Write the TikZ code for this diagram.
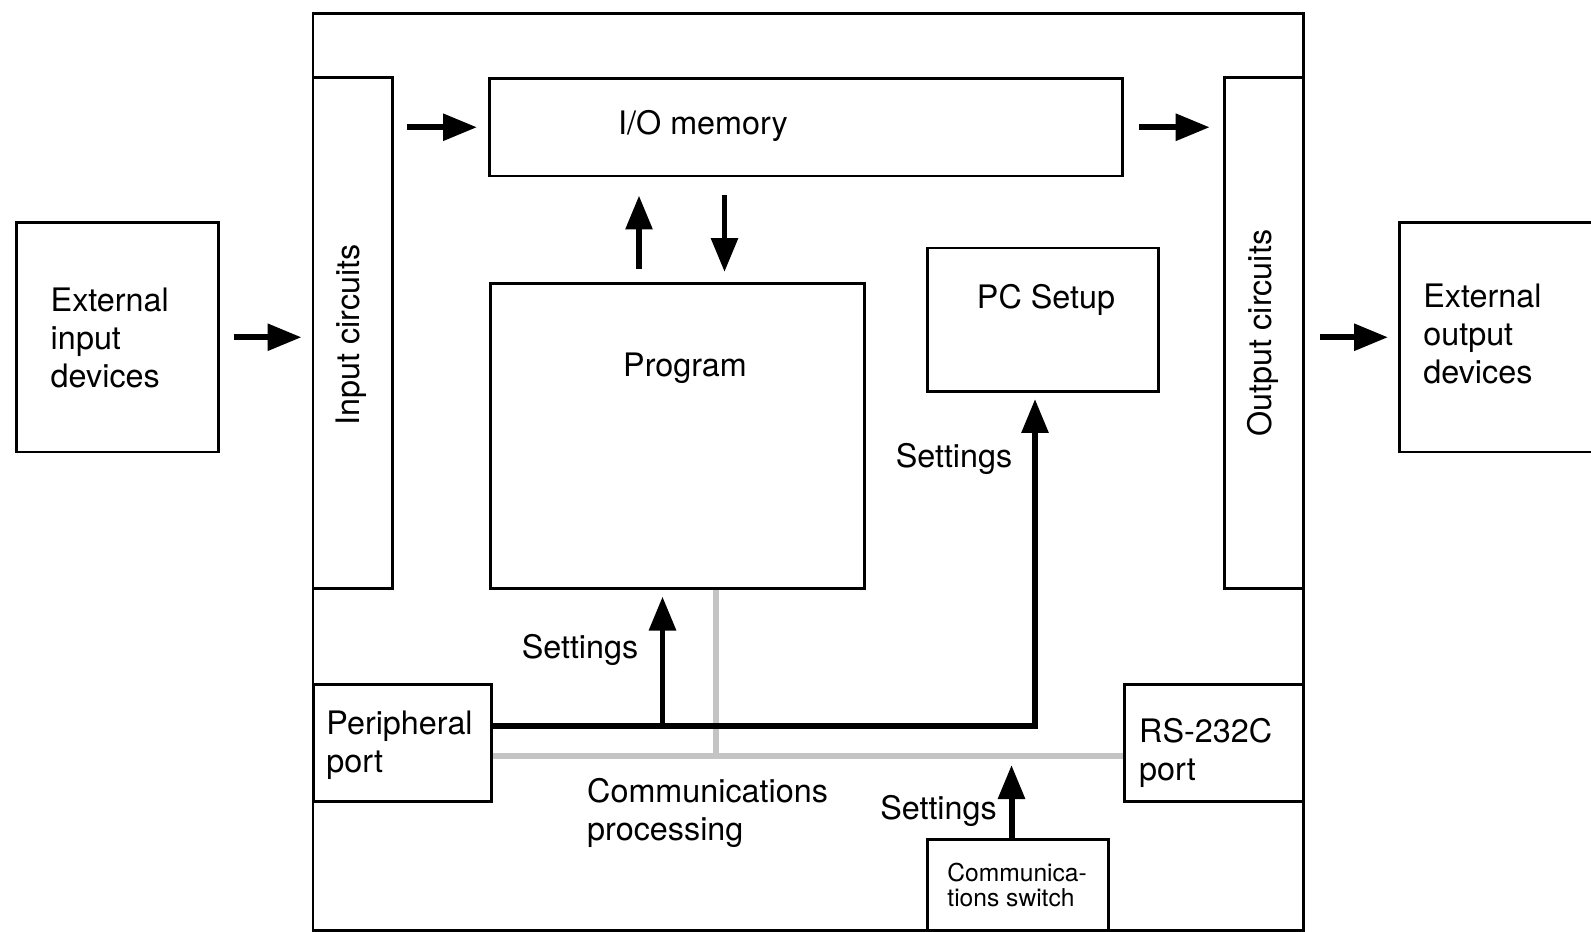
\documentclass[tikz,border=0pt]{standalone}
\usepackage{fontspec}
\setmainfont{TeX Gyre Heros}
\usetikzlibrary{arrows.meta,positioning,calc}
\definecolor{busgray}{HTML}{C4C4C4}

\begin{document}
\begin{tikzpicture}[
  blk/.style={draw,line width=0.85pt,inner sep=0pt,anchor=north west},
  txt/.style={inner sep=0pt,align=left,font=\fontsize{9.2}{10.7}\selectfont},
  smalltxt/.style={inner sep=0pt,align=left,font=\fontsize{7}{7.3}\selectfont},
  arr/.style={-{Triangle[length=0.34cm,width=0.26cm]},line width=1.7pt,black},
  bus/.style={line width=1.7pt,black},
  combus/.style={line width=1.8pt,busgray}
]
\useasboundingbox (0,0) rectangle (15.91,9.31);

\node[blk,minimum width=9.903cm,minimum height=9.168cm] (plc) at (3.115,9.188) {};
\node[blk,minimum width=2.02cm,minimum height=2.295cm] (extin) at (0.15,7.10) {};
\node[blk,minimum width=2.10cm,minimum height=2.295cm] (extout) at (13.98,7.10) {};
\node[blk,minimum width=0.791cm,minimum height=5.105cm] (inc) at (3.115,8.55) {};
\node[blk,minimum width=0.791cm,minimum height=5.105cm] (outc) at (12.227,8.55) {};
\node[blk,minimum width=6.33cm,minimum height=0.975cm] (iomem) at (4.88,8.54) {};
\node[blk,minimum width=3.735cm,minimum height=3.045cm] (prog) at (4.89,6.49) {};
\node[blk,minimum width=2.31cm,minimum height=1.435cm] (pcset) at (9.26,6.845) {};
\node[blk,minimum width=1.775cm,minimum height=1.165cm] (perport) at (3.125,2.48) {};
\node[blk,minimum width=1.79cm,minimum height=1.165cm] (rsport) at (11.23,2.48) {};
\node[blk,minimum width=1.81cm,minimum height=0.91cm] (comsw) at (9.26,0.93) {};

\node[txt,anchor=west] (extinlbl) at (0.50,5.93) {External\\input\\devices};
\node[txt,anchor=west] (extoutlbl) at (14.226,5.97) {External\\output\\devices};
\node[txt,rotate=90] (inclbl) at (3.51,5.96) {Input circuits};
\node[txt,rotate=90] (outclbl) at (12.63,5.98) {Output circuits};
\node[txt] (iomemlbl) at (7.03,8.05) {I/O memory};
\node[txt] (proglbl) at (6.85,5.63) {Program};
\node[txt] (pcsetlbl) at (10.46,6.31) {PC Setup};
\node[txt,anchor=west] (perlbl) at (3.257,1.86) {Peripheral\\port};
\node[txt,anchor=west] (rslbl) at (11.385,1.78) {RS-232C\\port};
\node[smalltxt,anchor=west] (swlbl) at (9.467,0.46) {Communica-\\tions switch};
\node[txt,anchor=west] (comlbl) at (5.865,1.18) {Communications\\processing};
\node[txt] (setpc) at (9.54,4.72) {Settings};
\node[txt] (setprog) at (5.80,2.81) {Settings};
\node[txt] (setsw) at (9.385,1.20) {Settings};

\draw[arr,shorten <=0.14cm,shorten >=0.1cm] (extin.east) -- (extin.east -| inc.west);
\draw[arr,shorten <=0.13cm,shorten >=0.11cm] (iomem.west -| inc.east) -- (iomem.west);
\draw[arr,shorten <=0.15cm,shorten >=0.13cm] (iomem.east) -- (iomem.east -| outc.west);
\draw[arr,shorten <=0.15cm,shorten >=0.1cm] (outc.east |- extout.west) -- (extout.west);
\draw[arr,shorten <=0.13cm,shorten >=0.18cm] (prog.north -| 6.39,0) -- (iomem.south -| 6.39,0);
\draw[arr,shorten <=0.18cm,shorten >=0.10cm] (iomem.south -| 7.245,0) -- (prog.north -| 7.245,0);

\coordinate (jbus) at (7.16,1.75);
\draw[combus] (perport.east |- jbus) -- (rsport.west |- jbus);
\draw[combus] (prog.south -| jbus) -- (jbus);

\coordinate (jset) at (6.625,2.055);
\draw[bus] (perport.east |- jset) -| (10.35,3.0);
\draw[arr,shorten >=0.06cm] (10.35,2.9) -- (pcset.south -| 10.35,0);
\draw[arr,shorten >=0.07cm] (jset) -- (jset |- prog.south);
\draw[arr] (comsw.north -| 10.115,0) -- (10.115,1.66);
\end{tikzpicture}
\end{document}
